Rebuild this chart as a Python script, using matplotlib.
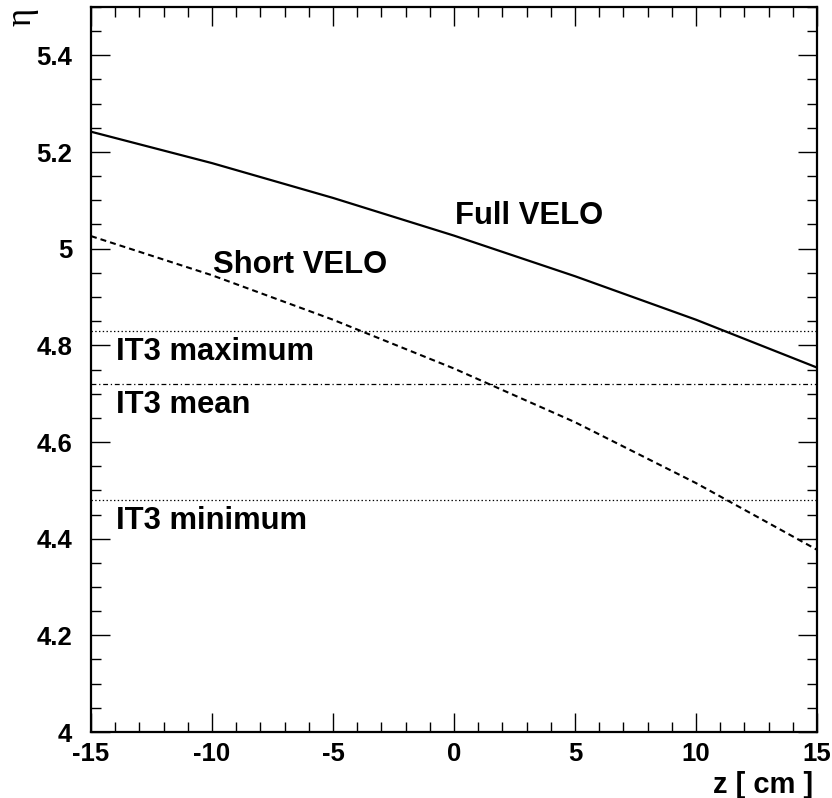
import numpy as np
import matplotlib
matplotlib.use("Agg")
from matplotlib import pyplot as plt
from matplotlib.ticker import MultipleLocator, FormatStrFormatter

# values
z = [-15, -10, -5, 0, 5, 10, 15]
eta_full = [5.242, 5.177, 5.105, 5.027, 4.943, 4.853, 4.754]
eta_short = [5.026, 4.945, 4.853, 4.752, 4.641, 4.515, 4.377]

it3_names = ["IT3 maximum", "IT3 mean", "IT3 minimum"]
it3_levels = [4.83, 4.72, 4.48]

plt.rcParams['font.family'] = ['Liberation Sans', 'DejaVu Sans']
plt.rcParams['font.weight'] = 'bold'
plt.rcParams['lines.scale_dashes'] = False

fig = plt.figure(figsize=(8.32, 7.98), dpi=100)
ax = fig.add_axes([91/832, 1-732/798, 726/832, 725/798])

ax.plot(z, eta_full, color="black", lw=1.6, solid_joinstyle="round")
ax.plot(z, eta_short, color="black", lw=1.5, linestyle=(0, (4.3, 2.9)))

#IT3の水平線
styles = [(0, (1, 1.7)), (0, (3.5, 2, 0.9, 2)), (0, (1, 1.7))]
for lev, ls in zip(it3_levels, styles):
    ax.axhline(lev, color="black", lw=0.9, linestyle=ls)

fs = 22.3
ax.text(0.04, 5.050, "Full VELO", fontsize=fs, va="baseline")
ax.text(-9.95, 4.950, "Short VELO", fontsize=fs, va="baseline")
for name, yb in zip(it3_names, [4.770, 4.661, 4.420]):
    ax.text(-13.97, yb, name, fontsize=fs, va="baseline")

ax.set_xlim(-15, 15)
ax.set_ylim(4, 5.5)
ax.xaxis.set_major_locator(MultipleLocator(5))
ax.xaxis.set_minor_locator(MultipleLocator(1))
ax.yaxis.set_major_locator(MultipleLocator(0.2))
ax.yaxis.set_minor_locator(MultipleLocator(0.05))
ax.xaxis.set_major_formatter(FormatStrFormatter('%g'))
ax.yaxis.set_major_formatter(FormatStrFormatter('%g'))

ax.tick_params(which="both", direction="in", top=True, right=True, width=1, labelsize=18.5)
ax.tick_params(which="major", length=14)
ax.tick_params(which="minor", length=7)
ax.tick_params(axis="y", which="major", pad=13.5)
ax.tick_params(axis="x", which="major", pad=7.5)
for s in ax.spines.values():
    s.set_linewidth(1.6)

fig.text(813/832, 1-793/798, "z [ cm ]", fontsize=21, ha="right", va="baseline")
fig.text(22/832, 1-17/798, "η", fontsize=25, rotation=90, ha="center", va="center",
         family=["Liberation Serif", "DejaVu Serif"], weight="normal")

plt.savefig("out.png", dpi=100)
